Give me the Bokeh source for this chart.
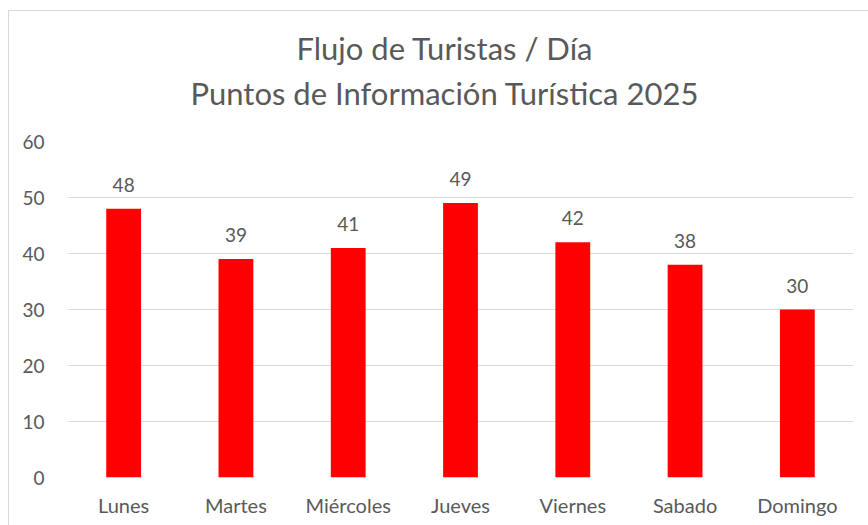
from bokeh.plotting import figure
from bokeh.models import ColumnDataSource, Range1d, FixedTicker, Title
from bokeh.core.properties import value
from bokeh.embed import file_html
from bokeh.resources import INLINE

days = ["Lunes", "Martes", "Miércoles", "Jueves", "Viernes", "Sabado", "Domingo"]
visitors = [48, 39, 41, 49, 42, 38, 30]
y_ticks = [0, 10, 20, 30, 40, 50, 60]
title_lines = ["Flujo de Turistas / Día", "Puntos de Información Turística 2025"]

FONT = "Lato"
GREY = "#595959"

src = ColumnDataSource(dict(day=days, v=visitors, lbl=[str(v) for v in visitors]))

p = figure(x_range=days, y_range=Range1d(0, 60), width=868, height=525,
           output_backend="svg", toolbar_location=None,
           min_border_left=67, min_border_right=15, min_border_top=141,
           min_border_bottom=48)
p.outline_line_color = None
p.background_fill_color = "white"
p.border_fill_color = "white"
p.stylesheets = [
    ":host { overflow: hidden; }"
    ":host::after { content: ''; position: absolute; left: 8px; top: 10px;"
    " width: 900px; height: 600px; border: 1px solid #d9d9d9;"
    " pointer-events: none; box-sizing: border-box; }"
]

p.vbar(x="day", top="v", width=0.31, source=src, fill_color="#FF0000",
       line_color=None)
p.text(x="day", y="v", text="lbl", source=src, text_align="center",
       text_baseline="middle", y_offset=-24, text_color=GREY,
       text_font=value(FONT), text_font_size="19px")

p.yaxis.ticker = FixedTicker(ticks=y_ticks)
p.xgrid.grid_line_color = None
p.ygrid.grid_line_color = "#d9d9d9"
p.ygrid.grid_line_width = 1
for ax in (p.xaxis, p.yaxis):
    ax.axis_line_color = None
    ax.major_tick_line_color = None
    ax.minor_tick_line_color = None
    ax.major_label_text_color = GREY
    ax.major_label_text_font = FONT
p.yaxis.major_label_standoff = 17
p.yaxis.major_label_text_font_size = "19px"
p.xaxis.major_label_text_font_size = "20px"
p.xaxis.major_label_standoff = 9

# spacer, then second line, then first line (stacked outward from the frame)
p.add_layout(Title(text=" ", standoff=22, text_font_size="1px"), "above")
p.add_layout(Title(text=title_lines[1], align="left", offset=123, standoff=10,
                   text_color=GREY, text_font=FONT, text_font_size="31px",
                   text_font_style="normal"), "above")
p.add_layout(Title(text=title_lines[0], align="left", offset=229, standoff=0,
                   text_color=GREY, text_font=FONT, text_font_size="31px",
                   text_font_style="normal"), "above")

open("out.html", "w").write(file_html(p, INLINE))
